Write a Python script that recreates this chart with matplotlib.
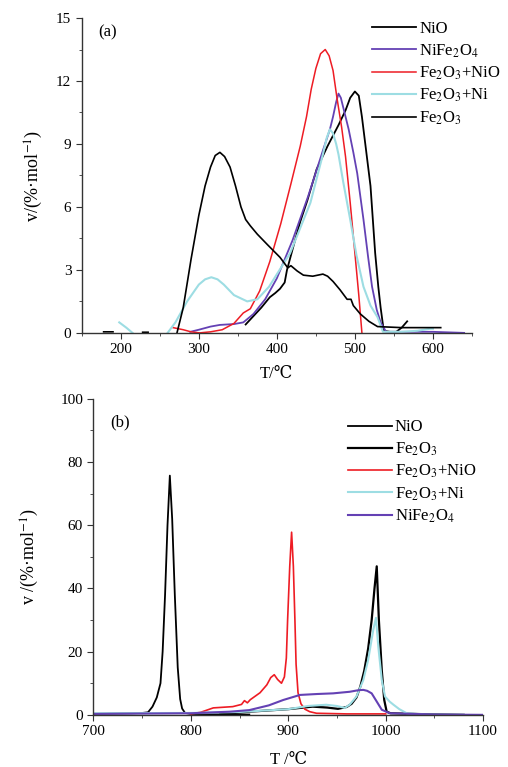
import numpy as np
import matplotlib
matplotlib.use("Agg")
import matplotlib.pyplot as plt
from matplotlib.ticker import MultipleLocator

plt.rcParams['font.family'] = ['Liberation Serif', 'DejaVu Serif', 'DejaVu Sans']
plt.rcParams['mathtext.fontset'] = 'stix'

nan = np.nan

# ---- (a) low temperature range ----
a_nio_T = [360, 370, 380, 391, 398, 404, 410, 413, 421, 430, 439, 451, 465, 479, 488, 494, 500, 505, 509, 514, 520, 526, 530, 533, 537, 545, 553, 560, 567]
a_nio_v = [0.4, 0.8, 1.2, 1.7, 1.9, 2.1, 2.4, 3.0, 4.1, 5.3, 6.3, 7.8, 8.9, 9.9, 10.6, 11.2, 11.5, 11.3, 10.3, 8.8, 7.0, 3.8, 2.2, 1.2, 0.1, 0.05, 0.05, 0.25, 0.55]

a_nife_T = [289, 300, 315, 327, 345, 357, 370, 385, 400, 420, 440, 460, 468, 472, 476, 479, 482, 486, 492, 498, 503, 511, 517, 522, 528, 533, 540, 560, 600, 640]
a_nife_v = [0.05, 0.15, 0.3, 0.38, 0.42, 0.5, 0.9, 1.6, 2.6, 4.4, 6.5, 8.8, 9.7, 10.3, 11.0, 11.4, 11.2, 10.6, 9.7, 8.6, 7.6, 5.4, 3.6, 2.2, 1.1, 0.5, 0.05, 0.05, 0.05, 0.0]

a_fn_T = [267, 280, 290, 301, 315, 330, 345, 357, 366, 378, 391, 405, 418, 430, 438, 444, 450, 456, 462, 467, 472, 477, 483, 488, 494, 500, 505, 509]
a_fn_v = [0.25, 0.15, 0.05, 0.0, 0.05, 0.15, 0.45, 0.95, 1.15, 2.0, 3.4, 5.2, 7.1, 8.9, 10.3, 11.6, 12.6, 13.3, 13.5, 13.2, 12.5, 11.2, 9.8, 8.4, 6.2, 3.8, 1.8, 0.0]

a_fni_T = [198, 207, 215, nan, 260, 270, 285, 300, 308, 316, 324, 332, 345, 362, 375, 390, 417, 443, 452, 459, 464, 468, 472, 476, 479, 485, 494, 502, 511, 520, 529, 536, 560, 580, 597, 600]
a_fni_v = [0.5, 0.25, 0.0, nan, 0.0, 0.5, 1.5, 2.3, 2.55, 2.65, 2.55, 2.3, 1.8, 1.5, 1.6, 2.2, 3.8, 6.2, 7.5, 8.5, 9.3, 9.7, 9.5, 9.0, 8.5, 7.2, 5.4, 3.7, 2.2, 1.3, 0.75, 0.05, 0.05, 0.1, 0.2, 0.2]

a_fe_T = [178, 190, nan, 228, 235, nan, 272, 280, 290, 300, 308, 315, 321, 327, 333, 340, 347, 354, 360, 366, 375, 388, 404, 408, 414, 418, 426, 434, 446, 459, 465, 472, 481, 490, 495, 498, 507, 518, 529, 560, 610]
a_fe_v = [0.05, 0.05, nan, 0.03, 0.03, nan, 0.0, 1.2, 3.5, 5.6, 7.0, 7.9, 8.45, 8.6, 8.4, 7.9, 7.0, 6.0, 5.4, 5.1, 4.7, 4.2, 3.6, 3.4, 3.1, 3.2, 2.95, 2.75, 2.7, 2.8, 2.7, 2.45, 2.05, 1.6, 1.6, 1.3, 0.9, 0.55, 0.3, 0.25, 0.25]

# ---- (b) high temperature range ----
b_nio_T = [700, 740, 750, 756, 760.6, 765, 768.8, 771, 773.5, 776, 778.4, 780.8, 783.5, 786.5, 789, 791, 794, 800, 860]
b_nio_v = [0.3, 0.5, 0.6, 0.8, 2.6, 5.5, 10, 20, 38, 60, 75.7, 62, 38, 15, 5, 2, 0.6, 0.3, 0.1]

b_fe_T = [830, 860, 900, 925, 940, 951, 960, 965, 970, 974, 978, 982, 985.6, 988.5, 990.8, 993, 996, 998.5, 1001, 1005, 1040, 1080]
b_fe_v = [0.2, 1.0, 1.8, 2.6, 2.3, 1.9, 2.5, 3.5, 5.5, 9, 14, 21, 30, 40, 47, 30, 14, 4.7, 1.0, 0.5, 0.2, 0.0]

b_fn_T = [800, 810, 823, 843, 852, 855, 858, 861, 871, 878, 882, 885.6, 889, 893, 896, 898, 899.3, 901.5, 903.4, 905.2, 906.8, 908, 910, 913, 917, 922, 929, 960, 1000]
b_fn_v = [0.3, 0.8, 2.2, 2.6, 3.3, 4.5, 3.8, 4.8, 7.0, 9.5, 11.8, 12.7, 11.2, 10.0, 12.0, 18, 30, 47, 57.8, 47, 30, 16, 7, 3.5, 1.8, 1.0, 0.5, 0.3, 0.3]

b_fni_T = [700, 800, 850, 900, 920, 939, 950, 958, 963, 970, 977, 982, 987.3, 990, 992.4, 996, 999.3, 1004, 1008, 1014, 1021.6, 1040, 1080]
b_fni_v = [0.5, 0.6, 0.9, 1.8, 2.8, 3.2, 2.8, 2.2, 3.2, 5.8, 11, 17.4, 27, 30.7, 21.6, 11, 5.8, 4.2, 3.2, 1.8, 0.5, 0.1, 0.0]

b_nife_T = [700, 800, 840, 860, 880, 894.8, 912, 930, 946, 963, 972, 977, 981, 985.6, 990.8, 996, 1004.4, 1050, 1100]
b_nife_v = [0.3, 0.5, 1.0, 1.5, 3.0, 4.7, 6.3, 6.6, 6.8, 7.3, 7.8, 7.9, 7.6, 6.8, 4.2, 1.6, 0.5, 0.1, 0.0]

black = '#000000'
purple = '#6441b4'
red = '#ee1c24'
cyan = '#9ddde3'


def style_axes(ax):
    for s in ['top', 'right']:
        ax.spines[s].set_visible(False)
    for s in ['left', 'bottom']:
        ax.spines[s].set_linewidth(1.0)
        ax.spines[s].set_color('#333333')
    ax.tick_params(which='both', direction='out', labelsize=11, colors='#333333', labelcolor='black')
    ax.tick_params(which='major', length=4)
    ax.tick_params(which='minor', length=2.5)


fig = plt.figure(figsize=(5.08, 7.67), dpi=100)

ax1 = fig.add_axes([0.161, 0.566, 0.768, 0.4105])
ax1.plot(a_nio_T, a_nio_v, color=black, lw=1.3, label='NiO')
ax1.plot(a_nife_T, a_nife_v, color=purple, lw=1.3, label='NiFe$_2$O$_4$')
ax1.plot(a_fn_T, a_fn_v, color=red, lw=1.1, label='Fe$_2$O$_3$+NiO')
ax1.plot(a_fni_T, a_fni_v, color=cyan, lw=1.5, label='Fe$_2$O$_3$+Ni')
ax1.plot(a_fe_T, a_fe_v, color=black, lw=1.2, label='Fe$_2$O$_3$')
ax1.set_xlim(150, 650)
ax1.set_ylim(0, 15)
ax1.xaxis.set_major_locator(MultipleLocator(100))
ax1.xaxis.set_minor_locator(MultipleLocator(50))
ax1.yaxis.set_major_locator(MultipleLocator(3))
ax1.yaxis.set_minor_locator(MultipleLocator(1.5))
style_axes(ax1)
ax1.set_xlabel('T/℃', fontsize=12, labelpad=7)
ax1.set_ylabel('v/(%·mol$^{-1}$)', fontsize=13, labelpad=8)
ax1.text(183, 14.3, '(a)', fontsize=12, va='center', ha='center')
ax1.legend(loc='upper left', bbox_to_anchor=(0.745, 0.99), frameon=False, fontsize=12,
           handlelength=2.6, handletextpad=0.2, labelspacing=0.3, borderpad=0, borderaxespad=0)

ax2 = fig.add_axes([0.184, 0.068, 0.767, 0.412])
ax2.plot(b_nio_T, b_nio_v, color=black, lw=1.3, label='NiO')
ax2.plot(b_fe_T, b_fe_v, color=black, lw=1.6, label='Fe$_2$O$_3$')
ax2.plot(b_fn_T, b_fn_v, color=red, lw=1.2, label='Fe$_2$O$_3$+NiO')
ax2.plot(b_fni_T, b_fni_v, color=cyan, lw=1.5, label='Fe$_2$O$_3$+Ni')
ax2.plot(b_nife_T, b_nife_v, color=purple, lw=1.5, label='NiFe$_2$O$_4$')
ax2.set_xlim(700, 1100)
ax2.set_ylim(0, 100)
ax2.xaxis.set_major_locator(MultipleLocator(100))
ax2.xaxis.set_minor_locator(MultipleLocator(50))
ax2.yaxis.set_major_locator(MultipleLocator(20))
ax2.yaxis.set_minor_locator(MultipleLocator(10))
style_axes(ax2)
ax2.set_xlabel('T /℃', fontsize=12, labelpad=10)
ax2.set_ylabel('v /(%·mol$^{-1}$)', fontsize=13, labelpad=14)
ax2.text(727, 92.5, '(b)', fontsize=12, va='center', ha='center')
ax2.legend(loc='upper left', bbox_to_anchor=(0.654, 0.935), frameon=False, fontsize=12,
           handlelength=2.6, handletextpad=0.2, labelspacing=0.3, borderpad=0, borderaxespad=0)

fig.savefig('out.png', dpi=100)
